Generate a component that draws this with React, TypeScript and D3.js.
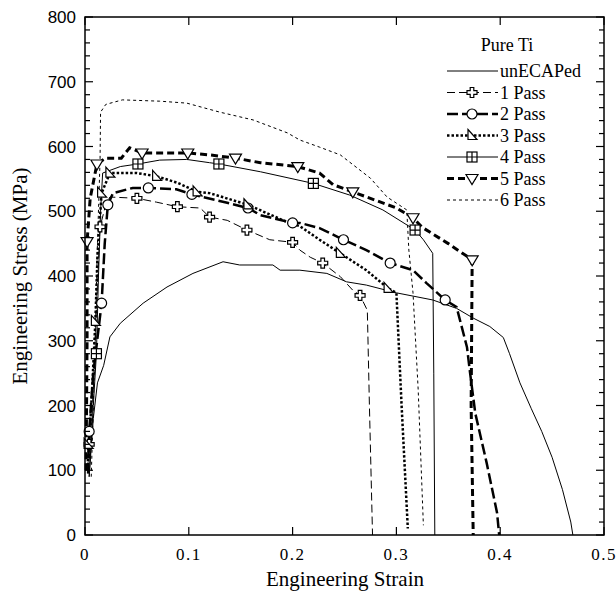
import React from "react";
import * as d3 from "d3";

// stress-strain curves, [strain, stress MPa]
const unecaped = [[0.004,90],[0.008,180],[0.012,235],[0.018,262],[0.024,306],[0.034,327],[0.056,358],[0.079,383],[0.104,404],[0.133,422],[0.149,417],[0.181,417],[0.188,409],[0.207,409],[0.233,404],[0.252,391],[0.271,386],[0.3,374],[0.335,363],[0.358,350],[0.374,335],[0.39,322],[0.403,305],[0.409,280],[0.419,235],[0.43,195],[0.44,160],[0.45,120],[0.46,70],[0.468,20],[0.47,0]];
const pass1 = [[0.003,95],[0.006,160],[0.009,260],[0.011,350],[0.0145,476],[0.02,510],[0.024,522],[0.05,520],[0.069,514],[0.089,507],[0.111,505],[0.12,491],[0.137,486],[0.156,471],[0.178,456],[0.2,452],[0.207,440],[0.217,429],[0.229,420],[0.246,399],[0.258,378],[0.265,370],[0.272,347],[0.274,200],[0.277,0]];
const pass2 = [[0.003,95],[0.004,160],[0.008,250],[0.016,358],[0.019,450],[0.022,510],[0.027,528],[0.046,536],[0.061,536],[0.088,534],[0.103,526],[0.137,513],[0.157,505],[0.169,494],[0.2,482],[0.207,482],[0.226,474],[0.249,456],[0.271,440],[0.294,420],[0.316,409],[0.329,389],[0.347,363],[0.358,352],[0.363,321],[0.368,290],[0.371,250],[0.376,188],[0.387,111],[0.397,34],[0.399,0]];
const pass3 = [[0.002,100],[0.004,140],[0.007,230],[0.01,330],[0.012,430],[0.016,528],[0.024,559],[0.05,559],[0.069,554],[0.089,544],[0.108,530],[0.12,528],[0.157,510],[0.195,483],[0.207,477],[0.226,456],[0.246,435],[0.271,409],[0.292,381],[0.3,374],[0.305,200],[0.311,10]];
const pass4 = [[0.004,90],[0.008,200],[0.011,280],[0.013,400],[0.015,500],[0.017,559],[0.034,569],[0.051,573],[0.072,579],[0.098,580],[0.12,575],[0.129,573],[0.169,561],[0.22,543],[0.255,525],[0.287,502],[0.318,471],[0.326,456],[0.335,435],[0.336,250],[0.337,0]];
const pass5 = [[0.001,100],[0.002,300],[0.002,453],[0.005,520],[0.0115,573],[0.02,582],[0.035,582],[0.043,598],[0.055,590],[0.099,590],[0.12,587],[0.145,582],[0.169,575],[0.205,569],[0.226,559],[0.239,541],[0.258,530],[0.3,505],[0.316,490],[0.325,475],[0.35,450],[0.373,425],[0.372,200],[0.374,0]];
const pass6 = [[0.006,90],[0.009,250],[0.012,450],[0.0145,579],[0.015,653],[0.02,665],[0.036,672],[0.072,670],[0.098,667],[0.13,653],[0.162,641],[0.195,621],[0.207,610],[0.226,599],[0.246,587],[0.275,551],[0.291,522],[0.31,502],[0.312,440],[0.316,374],[0.321,224],[0.326,15]];

// marker positions on the curves
const marks1 = [[0.004,140],[0.0145,476],[0.05,520],[0.089,507],[0.12,491],[0.156,471],[0.2,452],[0.229,420],[0.265,370]];
const marks2 = [[0.004,160],[0.016,358],[0.022,510],[0.061,536],[0.103,526],[0.157,505],[0.2,482],[0.249,456],[0.294,420],[0.347,363]];
const marks3 = [[0.003,140],[0.01,330],[0.016,528],[0.024,559],[0.069,554],[0.108,530],[0.157,510],[0.246,435],[0.292,381]];
const marks4 = [[0.011,280],[0.051,573],[0.129,573],[0.22,543],[0.318,471]];
const marks5 = [[0.002,453],[0.0115,573],[0.055,590],[0.099,590],[0.145,582],[0.205,569],[0.258,530],[0.316,490],[0.373,425]];

const labels = ["unECAPed", "1 Pass", "2 Pass", "3 Pass", "4 Pass", "5 Pass", "6 Pass"];
const xTicks = [0, 0.1, 0.2, 0.3, 0.4, 0.5];
const yTicks = [0, 100, 200, 300, 400, 500, 600, 700, 800];

const series = [
  { data: unecaped, marks: [], width: 1, dash: null, marker: null },
  { data: pass1, marks: marks1, width: 1, dash: "8,4", marker: "plus" },
  { data: pass2, marks: marks2, width: 2.5, dash: "11,4", marker: "circle" },
  { data: pass3, marks: marks3, width: 2.5, dash: "2.5,2", marker: "tri" },
  { data: pass4, marks: marks4, width: 1, dash: null, marker: "square" },
  { data: pass5, marks: marks5, width: 3, dash: "7,4", marker: "down" },
  { data: pass6, marks: [], width: 1, dash: "3,3", marker: null },
];

const Marker = ({ type, x, y }) => {
  const st = { fill: "white", stroke: "black", strokeWidth: 1.2 };
  if (type === "circle") return <circle cx={x} cy={y} r={5} {...st} />;
  if (type === "plus")
    return (
      <path
        d={`M${x - 1.8},${y - 5}h3.6v3.2h3.2v3.6h-3.2v3.2h-3.6v-3.2h-3.2v-3.6h3.2z`}
        {...st}
      />
    );
  if (type === "tri") return <path d={`M${x - 4},${y - 6}L${x + 5},${y + 4}H${x - 4}Z`} {...st} />;
  if (type === "down") return <path d={`M${x - 6},${y - 4}H${x + 6}L${x},${y + 6}Z`} {...st} />;
  if (type === "square")
    return (
      <g>
        <rect x={x - 5} y={y - 5} width={10} height={10} {...st} />
        <path d={`M${x},${y - 5}V${y + 5}M${x - 5},${y}H${x + 5}`} stroke="black" strokeWidth={1.2} />
      </g>
    );
  return null;
};

export default function App() {
  const x = d3.scaleLinear().domain([0, 0.5]).range([85, 604]);
  const y = d3.scaleLinear().domain([0, 800]).range([535, 17]);
  const line = d3.line().x((d) => x(d[0])).y((d) => y(d[1]));
  const minorY = d3.range(0, 801, 20).filter((v) => v % 100 !== 0);
  const serif = "'Liberation Serif', 'Times New Roman', serif";
  const sans = "'Liberation Sans', Arial, sans-serif";

  return (
    <svg width={616} height={598} style={{ position: "absolute", left: 0, top: 0, background: "white" }}>
      <rect x={0} y={0} width={616} height={598} fill="white" />
      {/* curves */}
      {series.map((s, i) => (
        <path
          key={"l" + i}
          d={line(s.data)}
          fill="none"
          stroke="black"
          strokeWidth={s.width}
          strokeDasharray={s.dash || undefined}
        />
      ))}
      {series.map((s, i) =>
        s.marks.map((m, j) => <Marker key={`m${i}-${j}`} type={s.marker} x={x(m[0])} y={y(m[1])} />)
      )}

      {/* frame + ticks */}
      <rect x={x(0)} y={y(800)} width={x(0.5) - x(0)} height={y(0) - y(800)} fill="none" stroke="black" strokeWidth={1.5} />
      {yTicks.map((v) => (
        <g key={"yt" + v}>
          <line x1={x(0)} x2={x(0) + 8} y1={y(v)} y2={y(v)} stroke="black" strokeWidth={1.2} />
          <line x1={x(0.5)} x2={x(0.5) - 8} y1={y(v)} y2={y(v)} stroke="black" strokeWidth={1.2} />
          <text x={76} y={y(v) + 6} textAnchor="end" fontFamily={sans} fontSize={17}>
            {v}
          </text>
        </g>
      ))}
      {minorY.map((v) => (
        <g key={"ym" + v}>
          <line x1={x(0)} x2={x(0) + 5} y1={y(v)} y2={y(v)} stroke="black" strokeWidth={1.2} />
          <line x1={x(0.5)} x2={x(0.5) - 5} y1={y(v)} y2={y(v)} stroke="black" strokeWidth={1.2} />
        </g>
      ))}
      {xTicks.map((v) => (
        <g key={"xt" + v}>
          <line x1={x(v)} x2={x(v)} y1={y(0)} y2={y(0) - 8} stroke="black" strokeWidth={1.2} />
          <line x1={x(v)} x2={x(v)} y1={y(800)} y2={y(800) + 8} stroke="black" strokeWidth={1.2} />
          <text x={x(v)} y={560} textAnchor="middle" fontFamily={serif} fontSize={17} letterSpacing={1.5}>
            {v === 0 ? "0" : v.toFixed(1)}
          </text>
        </g>
      ))}

      {/* axis titles */}
      <text x={345} y={586} textAnchor="middle" fontFamily={serif} fontSize={21}>
        Engineering Strain
      </text>
      <text
        transform={`translate(27,${(y(0) + y(800)) / 2}) rotate(-90)`}
        textAnchor="middle"
        fontFamily={serif}
        fontSize={21}
      >
        Engineering Stress (MPa)
      </text>

      {/* legend */}
      <text x={507} y={51} textAnchor="middle" fontFamily={serif} fontSize={18}>
        Pure Ti
      </text>
      {labels.map((lab, i) => {
        const s = series[i];
        const ly = 71 + i * 21.5;
        return (
          <g key={"lg" + i}>
            <line
              x1={447}
              x2={498}
              y1={ly}
              y2={ly}
              stroke="black"
              strokeWidth={s.width}
              strokeDasharray={s.dash || undefined}
            />
            {s.marker && <Marker type={s.marker} x={472} y={ly} />}
            <text x={500} y={ly + 6} fontFamily={serif} fontSize={18}>
              {lab}
            </text>
          </g>
        );
      })}
    </svg>
  );
}
